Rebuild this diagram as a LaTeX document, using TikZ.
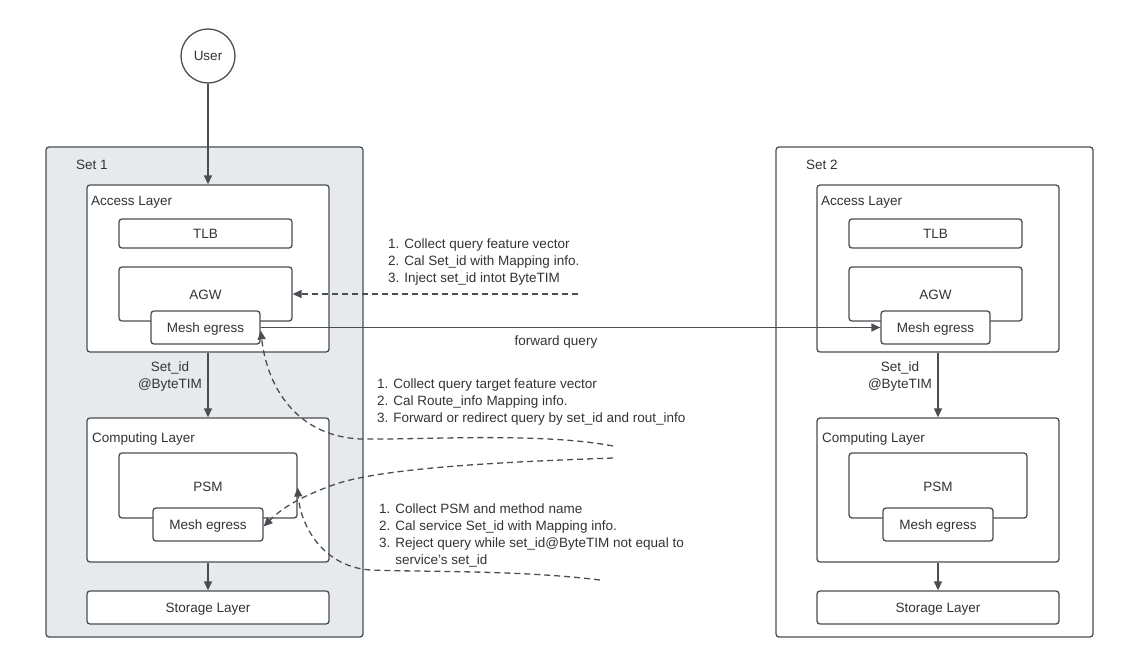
\documentclass[tikz,border=0pt]{standalone}
\usepackage{fontspec}
\setmainfont{Liberation Sans}
\usetikzlibrary{arrows.meta}
\definecolor{ln}{HTML}{4A4E53}
\definecolor{tx}{HTML}{333333}
\definecolor{setfill}{HTML}{E7EAED}
\tikzset{
  txt/.style={font=\fontsize{13.5}{17}\selectfont, text=tx, inner sep=0pt},
  box/.style={txt, draw=ln, line width=1.3pt, rounded corners=3pt, fill=white},
  lab/.style={txt, text depth=0pt},
  arr/.style={draw=ln, line width=1.3pt, -{Triangle[length=9pt,width=8pt]}},
  darr/.style={arr, dash pattern=on 6pt off 4pt},
}
\begin{document}
\begin{tikzpicture}[x=1pt,y=-1pt]
\useasboundingbox (0,0) rectangle (1138,653);
\node[box, circle, minimum size=54pt] (user) at (208,56) {User};
\foreach \s/\dx/\fc in {1/0/setfill,2/730/white}{
  \node[box, fill=\fc, minimum width=317pt, minimum height=490pt] (set\s) at (204.5+\dx,392) {};
  \node[txt, anchor=west] (setl\s) at (76+\dx,165) {Set \s};
  \node[box, minimum width=242pt, minimum height=167pt] (acc\s) at (208+\dx,268.5) {};
  \node[txt, anchor=west] (accl\s) at (91+\dx,202) {Access Layer};
  \node[box, minimum width=173pt, minimum height=29pt] (tlb\s) at (205.5+\dx,233.5) {};
  \node[lab] (tlbl\s) at (tlb\s.center) {TLB};
  \node[box, minimum width=173pt, minimum height=54pt] (agw\s) at (205.5+\dx,294) {};
  \node[lab] (agwl\s) at (205.5+\dx,295) {AGW};
  \node[box, minimum width=109pt, minimum height=33pt] (mesha\s) at (205.5+\dx,327.5) {};
  \node[lab] (meshal\s) at (mesha\s.center) {Mesh egress};
  \node[box, minimum width=242pt, minimum height=144pt] (comp\s) at (208+\dx,490) {};
  \node[txt, anchor=west] (compl\s) at (92+\dx,439) {Computing Layer};
  \node[box, minimum width=178pt, minimum height=65pt] (psm\s) at (208+\dx,485.5) {};
  \node[lab] (psml\s) at (208+\dx,487) {PSM};
  \node[box, minimum width=110pt, minimum height=33pt] (meshb\s) at (208+\dx,524.5) {};
  \node[lab] (meshbl\s) at (meshb\s.center) {Mesh egress};
  \node[box, minimum width=242pt, minimum height=33pt] (stor\s) at (208+\dx,607.5) {};
  \node[lab] (storl\s) at (stor\s.center) {Storage Layer};
  \draw[arr] (acc\s.south) -- (comp\s.north);
  \node[txt, align=center] (sid\s) at (170+\dx,377) {Set\_id\\@ByteTIM};
  \draw[arr] (comp\s.south) -- (stor\s.north);
}
\draw[arr] (user.south) -- (acc1.north);
\draw[arr] (mesha1.east) -- (mesha2.west);
\node[txt] (fq) at (556,342) {forward query};
\coordinate (d0) at (578,294);
\draw[darr] (d0) -- (agw1.east);
\node[txt, anchor=north west, align=left] (t1) at (388,239) {1. Collect query feature vector\\2. Cal Set\_id with Mapping info.\\3. Inject set\_id intot ByteTIM};
\node[txt, anchor=north west, align=left] (t2) at (377,379) {1. Collect query target feature vector\\2. Cal Route\_info Mapping info.\\3. Forward or redirect query by set\_id and rout\_info};
\node[txt, anchor=north west, align=left] (t3) at (379,504) {1. Collect PSM and method name\\2. Cal service Set\_id with Mapping info.\\3. Reject query while set\_id@ByteTIM not equal to\\\hphantom{3. }service's set\_id};
\coordinate (cA) at (613,446);
\coordinate (cB) at (613,458);
\coordinate (cC) at (600,580);
\draw[darr] (cA) .. controls (540,432) and (420,440) .. (360,439) .. controls (300,436) and (268,392) .. ([yshift=-3pt]mesha1.east);
\draw[darr] (cB) .. controls (500,462) and (380,468) .. (333,485) .. controls (300,497) and (282,508) .. ([yshift=-2pt]meshb1.east);
\draw[darr] (cC) .. controls (520,570) and (420,572) .. (370,570) .. controls (320,566) and (300,522) .. ([yshift=-2pt]psm1.east);
\end{tikzpicture}
\end{document}
